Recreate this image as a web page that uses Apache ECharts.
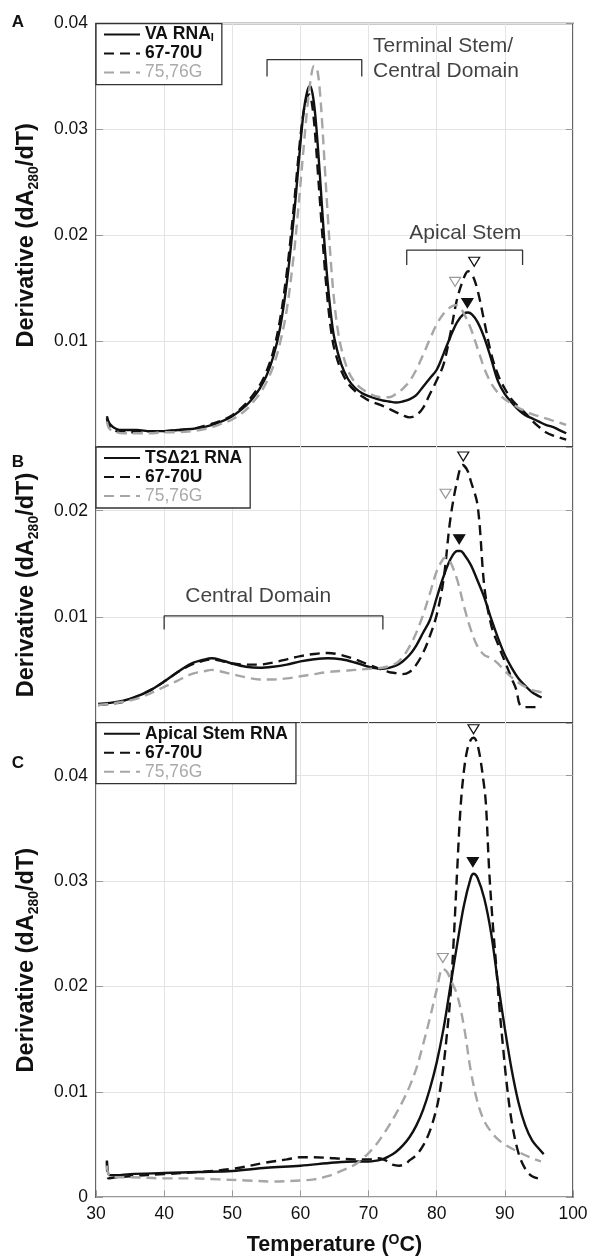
<!DOCTYPE html>
<html><head><meta charset="utf-8">
<script src="https://cdn.jsdelivr.net/npm/echarts@6/dist/echarts.min.js"></script>
<style>html,body{margin:0;padding:0;background:#fff}#c{width:594px;height:1259px}</style>
</head><body><div id="c"></div>
<script>
// ---------- DATA ----------
const xTicks = [30, 40, 50, 60, 70, 80, 90, 100];

// Panel A: VA RNA_I
const A_wt = [[31.6,0.0029],[32,0.0022],[33,0.0017],[34,0.0016],[36,0.0016],[38,0.0015],[40,0.0015],[42,0.0016],[44,0.0017],[46,0.0019],[48,0.0023],[50,0.0029],[52,0.0039],[53,0.0046],[54,0.0055],[55,0.0067],[56,0.0085],[57,0.0112],[58,0.0155],[59,0.0215],[59.5,0.0250],[60,0.0287],[60.5,0.0318],[61,0.0336],[61.4,0.0341],[61.8,0.0333],[62.2,0.0312],[62.6,0.0280],[63,0.0243],[63.5,0.0195],[64,0.0155],[64.5,0.0124],[65,0.0102],[66,0.0078],[67,0.0064],[68,0.0056],[69,0.0051],[70,0.0048],[72,0.0044],[73,0.0043],[74,0.0042],[75,0.0043],[76,0.0045],[77,0.0049],[78,0.0057],[79,0.0065],[80,0.0073],[81,0.0088],[82,0.0104],[83,0.0118],[84,0.0126],[84.6,0.0127],[85.2,0.0125],[86,0.0118],[87,0.0103],[88,0.0083],[89,0.0062],[90,0.0050],[91,0.0042],[92,0.0035],[93,0.0030],[94,0.0027],[95,0.0024],[96,0.0021],[97,0.0019],[98,0.0016],[99,0.0013]];
const A_u = [[31.6,0.0027],[32,0.0019],[33,0.0015],[34,0.0014],[36,0.0014],[38,0.0015],[40,0.0015],[42,0.0016],[44,0.0017],[46,0.0020],[48,0.0024],[50,0.0030],[52,0.0041],[53,0.0049],[54,0.0058],[55,0.0071],[56,0.0090],[57,0.0120],[58,0.0165],[59,0.0225],[59.5,0.0260],[60,0.0293],[60.5,0.0318],[61,0.0331],[61.3,0.0333],[61.7,0.0324],[62.1,0.0300],[62.5,0.0265],[63,0.0220],[63.5,0.0175],[64,0.0138],[64.5,0.0110],[65,0.0092],[66,0.0072],[67,0.0060],[68,0.0053],[69,0.0048],[70,0.0044],[72,0.0039],[74,0.0033],[75,0.0030],[76,0.0028],[77,0.0030],[78,0.0037],[79,0.0050],[80,0.0063],[81,0.0078],[82,0.0107],[83,0.0140],[84,0.0160],[84.6,0.0166],[85.2,0.0163],[86,0.0148],[87,0.0118],[88,0.0088],[89,0.0068],[90,0.0055],[91,0.0045],[92,0.0038],[93,0.0032],[94,0.0025],[95,0.0019],[96,0.0014],[97,0.0011],[98,0.0009],[99,0.0007]];
const A_g = [[31.6,0.0024],[32,0.0017],[33,0.0014],[34,0.0013],[36,0.0013],[38,0.0013],[40,0.0014],[42,0.0014],[44,0.0015],[46,0.0017],[48,0.0021],[50,0.0026],[52,0.0035],[53,0.0042],[54,0.0050],[55,0.0061],[56,0.0076],[57,0.0098],[58,0.0130],[59,0.0180],[59.5,0.0212],[60,0.0248],[60.5,0.0285],[61,0.0320],[61.5,0.0347],[62,0.0360],[62.4,0.0358],[62.8,0.0340],[63.2,0.0305],[63.6,0.0262],[64,0.0220],[64.5,0.0172],[65,0.0135],[65.5,0.0110],[66,0.0093],[67,0.0072],[68,0.0061],[69,0.0055],[70,0.0051],[71,0.0048],[72,0.0047],[73,0.0047],[74,0.0050],[75,0.0055],[76,0.0062],[77,0.0073],[78,0.0087],[79,0.0102],[80,0.0116],[81,0.0126],[82,0.0132],[82.8,0.0134],[83.5,0.0131],[84,0.0126],[85,0.0112],[86,0.0093],[87,0.0074],[88,0.0060],[89,0.0051],[90,0.0045],[91,0.0041],[92,0.0037],[93,0.0034],[94,0.0031],[95,0.0029],[96,0.0027],[97,0.0025],[98,0.0023],[99,0.0021]];

// Panel B: TSΔ21 RNA
const B_wt = [[30.3,0.0018],[32,0.0019],[34,0.0021],[36,0.0025],[38,0.0031],[40,0.0039],[42,0.0048],[44,0.0056],[46,0.0060],[47,0.0061],[48,0.0060],[50,0.0056],[52,0.0053],[54,0.0052],[56,0.0053],[58,0.0055],[60,0.0058],[62,0.0060],[64,0.0061],[66,0.0060],[68,0.0057],[70,0.0053],[72,0.0051],[73,0.0052],[74,0.0054],[75,0.0058],[76,0.0064],[77,0.0073],[78,0.0085],[79,0.0097],[80,0.0118],[81,0.0138],[82,0.0154],[83,0.0162],[83.5,0.0162],[84,0.0159],[85,0.0149],[86,0.0134],[87,0.0118],[88,0.0098],[89,0.0080],[90,0.0064],[91,0.0052],[92,0.0042],[93,0.0035],[94,0.0029],[95.4,0.0024]];
const B_u = [[30.3,0.0017],[32,0.0018],[34,0.0020],[36,0.0025],[38,0.0031],[40,0.0039],[42,0.0048],[44,0.0055],[46,0.0059],[47,0.0060],[48,0.0059],[50,0.0056],[52,0.0055],[54,0.0055],[56,0.0057],[58,0.0060],[60,0.0063],[62,0.0065],[64,0.0066],[66,0.0064],[68,0.0060],[70,0.0055],[72,0.0050],[73,0.0048],[74,0.0047],[75,0.0046],[76,0.0048],[77,0.0055],[78,0.0066],[79,0.0082],[80,0.0102],[81,0.0135],[82,0.0192],[83,0.0228],[83.8,0.0243],[84.5,0.0238],[85,0.0228],[86,0.0205],[87,0.0128],[88,0.0092],[89,0.0074],[90,0.0058],[91,0.0042],[91.7,0.0031],[92.2,0.0017],[93,0.0015],[95.4,0.0015]];
const B_g = [[30.3,0.0017],[32,0.0018],[34,0.0020],[36,0.0023],[38,0.0028],[40,0.0034],[42,0.0040],[44,0.0046],[46,0.0049],[47,0.0050],[48,0.0049],[50,0.0046],[52,0.0043],[54,0.0041],[56,0.0041],[58,0.0042],[60,0.0044],[62,0.0046],[64,0.0048],[66,0.0049],[68,0.0050],[70,0.0051],[72,0.0052],[74,0.0056],[75,0.0062],[76,0.0072],[77,0.0085],[78,0.0102],[79,0.0122],[80,0.0143],[81,0.0155],[81.5,0.0156],[82,0.0152],[83,0.0135],[84,0.0110],[85,0.0088],[86,0.0072],[87,0.0064],[88,0.0061],[89,0.0056],[90,0.0049],[91,0.0043],[92,0.0038],[93,0.0034],[94,0.0031],[95.4,0.0029]];

// Panel C: Apical Stem RNA
const C_wt = [[31.6,0.0035],[32,0.0021],[33,0.0021],[35,0.0022],[40,0.0023],[45,0.0024],[50,0.0025],[55,0.0028],[60,0.0030],[65,0.0033],[68,0.0034],[70,0.0034],[72,0.0036],[73,0.0039],[74,0.0043],[75,0.0049],[76,0.0057],[77,0.0068],[78,0.0083],[79,0.0103],[80,0.0128],[81,0.0160],[82,0.0200],[83,0.0240],[84,0.0277],[85,0.0303],[85.4,0.0307],[86,0.0303],[87,0.0283],[88,0.0250],[89,0.0203],[90,0.0160],[91,0.0121],[92,0.0090],[93,0.0068],[94,0.0054],[95,0.0046],[95.7,0.0041]];
const C_u = [[31.6,0.0034],[31.8,0.0018],[33,0.0019],[35,0.0020],[40,0.0022],[45,0.0024],[50,0.0027],[55,0.0033],[58,0.0036],[60,0.0038],[62,0.0038],[65,0.0037],[68,0.0036],[70,0.0036],[71.5,0.0037],[72.5,0.0035],[73.5,0.0031],[74.5,0.0030],[75.5,0.0032],[76,0.0035],[77,0.0040],[78,0.0049],[79,0.0063],[80,0.0085],[80.5,0.0102],[81,0.0125],[81.5,0.0155],[82,0.0190],[82.5,0.0245],[83,0.0310],[83.5,0.0370],[84,0.0405],[84.5,0.0425],[85,0.0434],[85.4,0.0436],[85.8,0.0433],[86.3,0.0420],[86.8,0.0398],[87.2,0.0375],[87.7,0.0310],[88.2,0.0262],[88.7,0.0222],[89.2,0.0180],[89.7,0.0145],[90.2,0.0112],[91,0.0072],[92,0.0042],[93,0.0027],[94,0.0020],[95.5,0.0017]];
const C_g = [[31.6,0.0030],[32,0.0020],[33,0.0019],[35,0.0019],[40,0.0018],[44,0.0018],[48,0.0017],[52,0.0016],[56,0.0015],[60,0.0016],[62,0.0017],[64,0.0020],[66,0.0025],[68,0.0031],[69,0.0036],[70,0.0042],[71,0.0049],[72,0.0058],[73,0.0068],[74,0.0079],[75,0.0091],[76,0.0105],[77,0.0122],[78,0.0145],[79,0.0170],[80,0.0197],[80.9,0.0217],[81.5,0.0214],[82,0.0207],[83,0.0192],[84,0.0162],[85,0.0120],[86,0.0090],[87,0.0072],[88,0.0062],[89,0.0055],[90,0.0050],[92,0.0043],[94,0.0037],[95.3,0.0034]];

// Peak markers [T, value]
const A_open67 = [[85.5, 0.0175]], A_open76 = [[82.7, 0.0156]], A_filled = [[84.5, 0.0136]];
const B_open67 = [[83.9, 0.0251]], B_open76 = [[81.3, 0.0216]], B_filled = [[83.3, 0.0173]];
const C_open67 = [[85.4, 0.0444]], C_open76 = [[80.9, 0.0227]], C_filled = [[85.3, 0.0318]];

// Annotation brackets [T, value]
const A_bracketTS = [[55.1, 0.0350], [55.1, 0.0366], [69.0, 0.0366], [69.0, 0.0350]];
const A_bracketAS = [[75.6, 0.0172], [75.6, 0.0186], [92.6, 0.0186], [92.6, 0.0172]];
const B_bracketCD = [[40.0, 0.0088], [40.0, 0.0101], [72.1, 0.0101], [72.1, 0.0088]];
const A_labelTS = [[70.65, 0.03664]], A_labelAS = [[84.2, 0.0202]], B_labelCD = [[53.8, 0.0119]];

// Axis ranges
const yMax = [0.04, 0.026, 0.045];

// ---------- CHART ----------
const SANS = '"Liberation Sans", Arial, Helvetica, sans-serif';
const NARROW = '"Liberation Sans Narrow", "Arial Narrow", "Liberation Sans", Arial, sans-serif';
const BLACK = '#111', GRAY = '#a6a6a6';
const DASH = [10, 6];
const grids = [
  {left: 96, right: 21, top: 23.6, height: 423.4},
  {left: 96, right: 21, top: 447, height: 276},
  {left: 96, right: 21, top: 723, height: 474.3}
];

function lineSeries(name, data, i, color, dashed) {
  return {type: 'line', name, data, xAxisIndex: i, yAxisIndex: i, showSymbol: false, symbol: 'none',
    smooth: 0.35, silent: true, z: 3,
    lineStyle: {color, width: 2.4, type: dashed ? DASH : 'solid'}, itemStyle: {color}};
}
function tri(data, i, fill, stroke) {
  return {type: 'scatter', data, xAxisIndex: i, yAxisIndex: i, symbol: 'triangle', symbolRotate: 180,
    symbolSize: [11, 9], silent: true, z: 5,
    itemStyle: {color: fill, borderColor: stroke, borderWidth: 1.2, opacity: 1}};
}
function bracket(data, i) {
  return {type: 'line', data, xAxisIndex: i, yAxisIndex: i, showSymbol: false, symbol: 'none', silent: true,
    lineStyle: {color: '#333', width: 1.3}, z: 4};
}
function textMark(data, i, text, align) {
  return {type: 'scatter', data, xAxisIndex: i, yAxisIndex: i, symbol: 'circle', symbolSize: 1, silent: true,
    itemStyle: {color: 'rgba(0,0,0,0)'}, z: 6,
    label: {show: true, position: 'inside', formatter: text, align: align, verticalAlign: 'middle',
      fontFamily: SANS, fontSize: 21, color: '#111', lineHeight: 25}};
}

const yName = '{d|Derivative (dA}{s|280}{d|/dT)}';
const yNameStyle = {rich: {
  d: {fontFamily: SANS, fontWeight: 'bold', fontSize: 23.5, color: '#111', lineHeight: 28},
  s: {fontFamily: SANS, fontWeight: 'bold', fontSize: 14, color: '#111', lineHeight: 14, verticalAlign: 'bottom'}
}};

function yLabel(i) {
  return function (v) {
    const k = Math.round(v * 100);
    if (Math.abs(v * 100 - k) > 1e-6) return '';
    if (k === 0) return i === 2 ? '0' : '';
    return (k / 100).toFixed(2);
  };
}

const yAxes = [];
[0, 1, 2].forEach(i => {
  yAxes.push({type: 'value', gridIndex: i, min: 0, max: yMax[i], interval: 0.01, position: 'left',
    axisLine: {show: false},
    axisTick: {show: true, inside: true, length: 7, lineStyle: {color: '#999'}},
    axisLabel: {fontFamily: SANS, fontSize: 17.5, color: '#111', margin: 8, formatter: yLabel(i)},
    splitLine: {show: true, lineStyle: {color: '#e4e4e4', width: 1}},
    name: yName, nameLocation: 'middle', nameRotate: 90, nameGap: 55, nameTextStyle: yNameStyle});
});
[0, 1, 2].forEach(i => {
  yAxes.push({type: 'value', gridIndex: i, min: 0, max: yMax[i], interval: 0.01, position: 'right',
    axisLine: {show: false}, axisLabel: {show: false}, splitLine: {show: false},
    axisTick: {show: true, inside: true, length: 7, lineStyle: {color: '#999'}}});
});

const legendBase = {
  orient: 'vertical', left: 96, selectedMode: false, backgroundColor: '#fff',
  borderColor: '#333', borderWidth: 1.3, borderRadius: 0, padding: [2, 8, 3, 7],
  itemWidth: 36, itemHeight: 14, itemGap: 1,
  itemStyle: {color: 'rgba(0,0,0,0)', borderColor: 'rgba(0,0,0,0)', borderWidth: 0, opacity: 0},
  textStyle: {fontFamily: NARROW, fontSize: 17.5, fontWeight: 'bold', color: '#111', lineHeight: 18,
    rich: {
      b: {fontFamily: NARROW, fontSize: 17.5, fontWeight: 'bold', color: '#111', lineHeight: 18},
      sub: {fontFamily: NARROW, fontSize: 11, fontWeight: 'bold', color: '#111', lineHeight: 11, verticalAlign: 'bottom'},
      g: {fontFamily: NARROW, fontSize: 17.5, fontWeight: 'normal', color: '#aaa', lineHeight: 18}
    }},
  formatter: function (name) {
    if (name === 'VA RNA I') return '{b|VA RNA}{sub|I}';
    if (name === '75,76G') return '{g|75,76G}';
    return '{b|' + name + '}';
  }
};

const option = {
  animation: false,
  backgroundColor: '#fff',
  grid: grids.map(g => Object.assign({show: true, borderColor: '#333', borderWidth: 1.5, backgroundColor: 'transparent'}, g)),
  xAxis: [0, 1, 2].map(i => ({
    type: 'value', gridIndex: i, min: xTicks[0], max: xTicks[xTicks.length - 1], interval: 10,
    axisLine: {show: false},
    axisTick: {show: i === 2, inside: true, length: 7, lineStyle: {color: '#999'}},
    axisLabel: {show: i === 2, fontFamily: SANS, fontSize: 17.5, color: '#111', margin: 8},
    splitLine: {show: true, lineStyle: {color: '#e4e4e4', width: 1}},
    name: i === 2 ? '{t|Temperature (}{s|O}{t|C)}' : '',
    nameLocation: 'middle', nameGap: 36,
    nameTextStyle: {rich: {
      t: {fontFamily: SANS, fontWeight: 'bold', fontSize: 21.5, color: '#111', lineHeight: 24},
      s: {fontFamily: SANS, fontWeight: 'bold', fontSize: 14, color: '#111', lineHeight: 14, verticalAlign: 'top'}
    }}
  })),
  yAxis: yAxes,
  legend: [
    Object.assign({}, legendBase, {top: 23.6, data: ['VA RNA I', '67-70U', '75,76G']}),
    Object.assign({}, legendBase, {top: 447, data: ['TSΔ21 RNA', '67-70U', '75,76G']}),
    Object.assign({}, legendBase, {top: 722.7, data: ['Apical Stem RNA', '67-70U', '75,76G']})
  ],
  graphic: [
    {type: 'text', x: 18, y: 22, style: {text: 'A', fill: '#111', font: 'bold 17px "Liberation Sans", Arial', align: 'center', verticalAlign: 'middle'}},
    {type: 'text', x: 18, y: 462, style: {text: 'B', fill: '#111', font: 'bold 17px "Liberation Sans", Arial', align: 'center', verticalAlign: 'middle'}},
    {type: 'text', x: 18, y: 763, style: {text: 'C', fill: '#111', font: 'bold 17px "Liberation Sans", Arial', align: 'center', verticalAlign: 'middle'}}
  ],
  series: [
    lineSeries('VA RNA I', A_wt, 0, BLACK, false),
    lineSeries('67-70U', A_u, 0, BLACK, true),
    lineSeries('75,76G', A_g, 0, GRAY, true),
    lineSeries('TSΔ21 RNA', B_wt, 1, BLACK, false),
    lineSeries('67-70U', B_u, 1, BLACK, true),
    lineSeries('75,76G', B_g, 1, GRAY, true),
    lineSeries('Apical Stem RNA', C_wt, 2, BLACK, false),
    lineSeries('67-70U', C_u, 2, BLACK, true),
    lineSeries('75,76G', C_g, 2, GRAY, true),
    tri(A_open67, 0, '#fff', BLACK), tri(A_open76, 0, '#fff', '#999'), tri(A_filled, 0, BLACK, BLACK),
    tri(B_open67, 1, '#fff', BLACK), tri(B_open76, 1, '#fff', '#999'), tri(B_filled, 1, BLACK, BLACK),
    tri(C_open67, 2, '#fff', BLACK), tri(C_open76, 2, '#fff', '#999'), tri(C_filled, 2, BLACK, BLACK),
    bracket(A_bracketTS, 0), bracket(A_bracketAS, 0), bracket(B_bracketCD, 1),
    textMark(A_labelTS, 0, 'Terminal Stem/\nCentral Domain', 'left'),
    textMark(A_labelAS, 0, 'Apical Stem', 'center'),
    textMark(B_labelCD, 1, 'Central Domain', 'center')
  ]
};
const chart = echarts.init(document.getElementById('c'), null, {renderer: 'canvas'});
chart.setOption(option);
</script>
</body></html>
